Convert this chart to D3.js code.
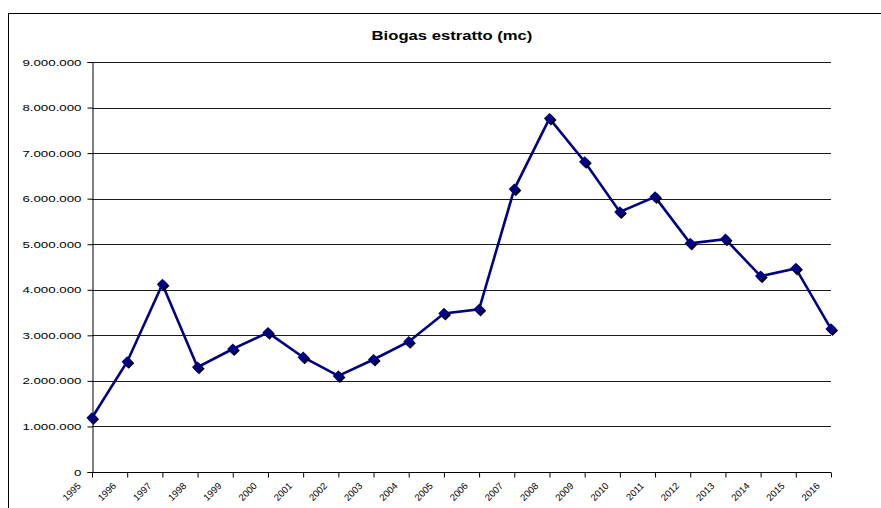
<!DOCTYPE html>
<html>
<head>
<meta charset="utf-8">
<script src="https://cdn.jsdelivr.net/npm/d3@7"></script>
<style>
  html, body { margin: 0; padding: 0; background: #fff; }
  svg { display: block; font-family: Arial, "Liberation Sans", sans-serif; }
</style>
</head>
<body>
<svg id="chart" width="881" height="508"></svg>
<script>
// Annual extracted biogas volume (cubic metres)
const years = ["1995","1996","1997","1998","1999","2000","2001","2002","2003","2004","2005",
               "2006","2007","2008","2009","2010","2011","2012","2013","2014","2015","2016"];
const biogas = [1190000, 2420000, 4120000, 2300000, 2700000, 3060000, 2520000, 2110000, 2470000,
                2860000, 3480000, 3570000, 6210000, 7760000, 6810000, 5710000, 6040000, 5020000,
                5110000, 4300000, 4470000, 3140000];
const yTicks = [0, 1000000, 2000000, 3000000, 4000000, 5000000, 6000000, 7000000, 8000000, 9000000];
const chartTitle = "Biogas estratto (mc)";

const svg = d3.select("#chart");
const plot = { left: 92, right: 831, top: 62, bottom: 472 };

// outer chart frame
svg.append("rect")
  .attr("x", 8.5).attr("y", 13.5)
  .attr("width", 1000).attr("height", 1000)
  .attr("fill", "none").attr("stroke", "#000").attr("stroke-width", 1);

const x = d3.scalePoint().domain(years).range([plot.left, plot.right]);
const y = d3.scaleLinear().domain([0, 9000000]).range([plot.bottom, plot.top]);

const fmt = v => d3.format(",")(v).replace(/,/g, ".");

// horizontal gridlines
svg.append("g")
  .selectAll("line")
  .data(yTicks.filter(t => t > 0))
  .join("line")
  .attr("x1", plot.left).attr("x2", plot.right)
  .attr("y1", d => Math.round(y(d)) + 0.5).attr("y2", d => Math.round(y(d)) + 0.5)
  .attr("stroke", "#1a1a1a").attr("stroke-width", 1);

// y axis
const yAxis = svg.append("g")
  .attr("transform", `translate(${plot.left + 0.5},0)`)
  .call(d3.axisLeft(y).tickValues(yTicks).tickSize(5).tickPadding(6).tickFormat(fmt));
yAxis.select(".domain").attr("stroke", "#000");
yAxis.selectAll(".tick line").attr("stroke", "#000");
yAxis.selectAll(".tick text")
  .attr("font-size", 9.5).attr("fill", "#000")
  .attr("font-family", "Arial, 'Liberation Sans', sans-serif")
  .each(function () {
    const t = d3.select(this);
    const xx = +t.attr("x") || -11;
    t.attr("x", null).attr("transform", `translate(${xx},0) scale(1.4,1)`);
  });

// x axis
const xAxis = svg.append("g")
  .attr("transform", `translate(0,${plot.bottom + 0.5})`)
  .call(d3.axisBottom(x).tickSize(5).tickSizeOuter(0).tickFormat(d => d));
xAxis.select(".domain").attr("stroke", "#000").attr("d", `M${plot.left},0H${plot.right}`);
xAxis.selectAll(".tick line").attr("stroke", "#000");
xAxis.selectAll(".tick text")
  .attr("font-size", 9.5).attr("fill", "#000")
  .attr("font-family", "Arial, 'Liberation Sans', sans-serif")
  .attr("text-anchor", "end")
  .attr("dy", null).attr("y", null)
  .attr("transform", "translate(-11,14) rotate(-45)");

// data line
const line = d3.line().x((d, i) => x(years[i])).y(d => y(d));
svg.append("path")
  .datum(biogas)
  .attr("d", line)
  .attr("fill", "none")
  .attr("stroke", "#000080")
  .attr("stroke-width", 2.6)
  .attr("stroke-linejoin", "miter");

// diamond markers with a dark drop shadow
const diamond = d3.symbol().type(d3.symbolDiamond2).size(80);
const marks = svg.append("g");
marks.selectAll("path.shadow")
  .data(biogas)
  .join("path")
  .attr("class", "shadow")
  .attr("d", diamond)
  .attr("transform", (d, i) => `translate(${x(years[i]) + 1.5},${y(d) + 1.5})`)
  .attr("fill", "#000");
marks.selectAll("path.mark")
  .data(biogas)
  .join("path")
  .attr("class", "mark")
  .attr("d", diamond)
  .attr("transform", (d, i) => `translate(${x(years[i])},${y(d)})`)
  .attr("fill", "#000080");

// title
svg.append("text")
  .attr("transform", "translate(452,40) scale(1.28,1)")
  .attr("text-anchor", "middle")
  .attr("font-size", 13)
  .attr("font-weight", "bold")
  .attr("fill", "#000")
  .text(chartTitle);
</script>
</body>
</html>
